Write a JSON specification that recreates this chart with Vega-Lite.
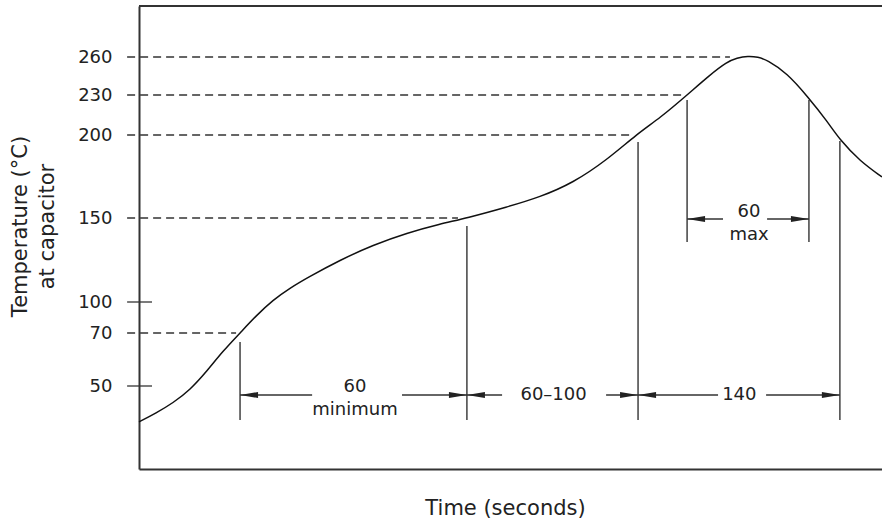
{
  "$schema": "https://vega.github.io/schema/vega-lite/v6.json",
  "width": 743,
  "height": 463,
  "autosize": {"type": "none"},
  "padding": {"left": 139, "top": 6, "right": 0, "bottom": 54},
  "background": "white",
  "config": {"view": {"stroke": null}, "font": "DejaVu Sans"},
  "datasets": {
    "curve": [
      {"t": 0, "T": 35.9}, {"t": 6.9, "T": 38.9}, {"t": 13.7, "T": 42.3}, {"t": 20.6, "T": 47.8},
      {"t": 27.5, "T": 55.7}, {"t": 33.9, "T": 63.2}, {"t": 40.8, "T": 70}, {"t": 47.2, "T": 86.5},
      {"t": 54.1, "T": 101.2}, {"t": 61.0, "T": 108.3}, {"t": 67.8, "T": 114.3}, {"t": 81.2, "T": 125},
      {"t": 94.5, "T": 133.9}, {"t": 108.2, "T": 141.1}, {"t": 121.5, "T": 146.4}, {"t": 132.4, "T": 150},
      {"t": 148.6, "T": 156.6}, {"t": 161.9, "T": 162.6}, {"t": 175.2, "T": 171.1}, {"t": 188.9, "T": 184.9},
      {"t": 201.1, "T": 200.8}, {"t": 210.4, "T": 212.8}, {"t": 221.3, "T": 230}, {"t": 230.5, "T": 245.8},
      {"t": 237.4, "T": 256.1}, {"t": 241.4, "T": 259.2}, {"t": 245.9, "T": 260.8}, {"t": 249.9, "T": 260},
      {"t": 253.6, "T": 257.6}, {"t": 261.6, "T": 247.4}, {"t": 270.1, "T": 228.5}, {"t": 277.8, "T": 210.5},
      {"t": 283, "T": 197}, {"t": 291.1, "T": 184.3}, {"t": 300, "T": 174.7}
    ],
    "frame": [{"t": 0, "t2": 300, "T": 300}],
    "dashed": [
      {"t": -4.8, "t2": 238.6, "T": 260},
      {"t": -4.8, "t2": 219.2, "T": 230},
      {"t": -4.8, "t2": 198.3, "T": 200},
      {"t": -4.8, "t2": 128.8, "T": 150},
      {"t": -4.8, "t2": 39.2, "T": 70}
    ],
    "ticks": [
      {"t": -4.8, "t2": 5.25, "T": 100},
      {"t": -4.8, "t2": 5.25, "T": 50}
    ],
    "ext": [
      {"t": 40.8, "T": 66.6, "T2": 36.55},
      {"t": 132.4, "T": 145.2, "T2": 36.55},
      {"t": 201.5, "T": 195.8, "T2": 36.55},
      {"t": 221.3, "T": 226.25, "T2": 135.7},
      {"t": 270.5, "T": 226.25, "T2": 135.7},
      {"t": 283.0, "T": 196.4, "T2": 36.55}
    ],
    "dims": [
      {"t": 40.8, "t2": 69.9, "T": 45},
      {"t": 106.2, "t2": 132.4, "T": 45},
      {"t": 132.4, "t2": 146.6, "T": 45},
      {"t": 188.6, "t2": 201.5, "T": 45},
      {"t": 201.5, "t2": 233.8, "T": 45},
      {"t": 253.2, "t2": 283.0, "T": 45},
      {"t": 221.3, "t2": 235.8, "T": 149.4},
      {"t": 253.6, "t2": 270.5, "T": 149.4}
    ],
    "heads": [
      {"t": 40.8, "T": 45, "dir": "left"},
      {"t": 132.4, "T": 45, "dir": "right"},
      {"t": 132.4, "T": 45, "dir": "left"},
      {"t": 201.5, "T": 45, "dir": "right"},
      {"t": 201.5, "T": 45, "dir": "left"},
      {"t": 283.0, "T": 45, "dir": "right"},
      {"t": 221.3, "T": 149.4, "dir": "left"},
      {"t": 270.5, "T": 149.4, "dir": "right"}
    ],
    "labels": [
      {"t": 87.2, "T": 49.7, "label": "60"},
      {"t": 87.2, "T": 40.1, "label": "minimum"},
      {"t": 167.4, "T": 45, "label": "60–100"},
      {"t": 242.4, "T": 45, "label": "140"},
      {"t": 246.3, "T": 153.9, "label": "60"},
      {"t": 246.3, "T": 140.1, "label": "max"}
    ]
  },
  "encoding": {
    "x": {
      "field": "t",
      "type": "quantitative",
      "scale": {"domain": [0, 300], "nice": false, "zero": false},
      "axis": {
        "title": "Time (seconds)",
        "labels": false,
        "ticks": false,
        "tickSize": 0,
        "grid": false,
        "domainColor": "#333",
        "domainWidth": 2,
        "titleFont": "DejaVu Sans",
        "titleFontSize": 21,
        "titleFontWeight": "normal",
        "titleColor": "#222",
        "titleX": 366,
        "titleY": 45,
        "titleBaseline": "alphabetic"
      }
    },
    "y": {
      "field": "T",
      "type": "quantitative",
      "scale": {
        "type": "linear",
        "domain": [20, 45, 50, 70, 100, 150, 200, 230, 260, 300],
        "range": [463, 389, 380, 327, 296, 212, 129, 89, 51, 0],
        "nice": false,
        "zero": false
      },
      "axis": {
        "values": [50, 70, 100, 150, 200, 230, 260],
        "title": ["Temperature (°C)", "at capacitor"],
        "ticks": false,
        "tickSize": 0,
        "grid": false,
        "labelPadding": 27,
        "labelFont": "DejaVu Sans",
        "labelFontSize": 18,
        "labelColor": "#222",
        "domainColor": "#333",
        "domainWidth": 2,
        "titleFont": "DejaVu Sans",
        "titleFontSize": 21,
        "titleFontWeight": "normal",
        "titleColor": "#222",
        "titleAngle": -90,
        "titleX": -130,
        "titleY": 220,
        "titleAlign": "center",
        "titleBaseline": "top",
        "titleLineHeight": 27
      }
    }
  },
  "layer": [
    {
      "data": {"name": "frame"},
      "mark": {"type": "rule", "color": "#333", "strokeWidth": 2},
      "encoding": {"x2": {"field": "t2"}}
    },
    {
      "data": {"name": "dashed"},
      "mark": {"type": "rule", "color": "#333", "strokeWidth": 1.3, "strokeDash": [8, 5]},
      "encoding": {"x2": {"field": "t2"}}
    },
    {
      "data": {"name": "ticks"},
      "mark": {"type": "rule", "color": "#333", "strokeWidth": 1.3},
      "encoding": {"x2": {"field": "t2"}}
    },
    {
      "data": {"name": "ext"},
      "mark": {"type": "rule", "color": "#333", "strokeWidth": 1.4},
      "encoding": {"y2": {"field": "T2"}}
    },
    {
      "data": {"name": "dims"},
      "mark": {"type": "rule", "color": "#333", "strokeWidth": 1.3},
      "encoding": {"x2": {"field": "t2"}}
    },
    {
      "data": {"name": "heads"},
      "mark": {"type": "point", "filled": true, "opacity": 1, "color": "#222", "strokeWidth": 0, "size": 324},
      "encoding": {
        "shape": {
          "field": "dir",
          "type": "nominal",
          "scale": {"domain": ["left", "right"], "range": ["M0,0L2,-0.33L2,0.33Z", "M0,0L-2,-0.33L-2,0.33Z"]},
          "legend": null
        }
      }
    },
    {
      "data": {"name": "curve"},
      "mark": {"type": "line", "color": "#111", "strokeWidth": 1.5, "interpolate": "basis"}
    },
    {
      "data": {"name": "labels"},
      "mark": {"type": "text", "font": "DejaVu Sans", "fontSize": 18, "color": "#222", "align": "center", "baseline": "middle"},
      "encoding": {"text": {"field": "label"}}
    }
  ]
}
